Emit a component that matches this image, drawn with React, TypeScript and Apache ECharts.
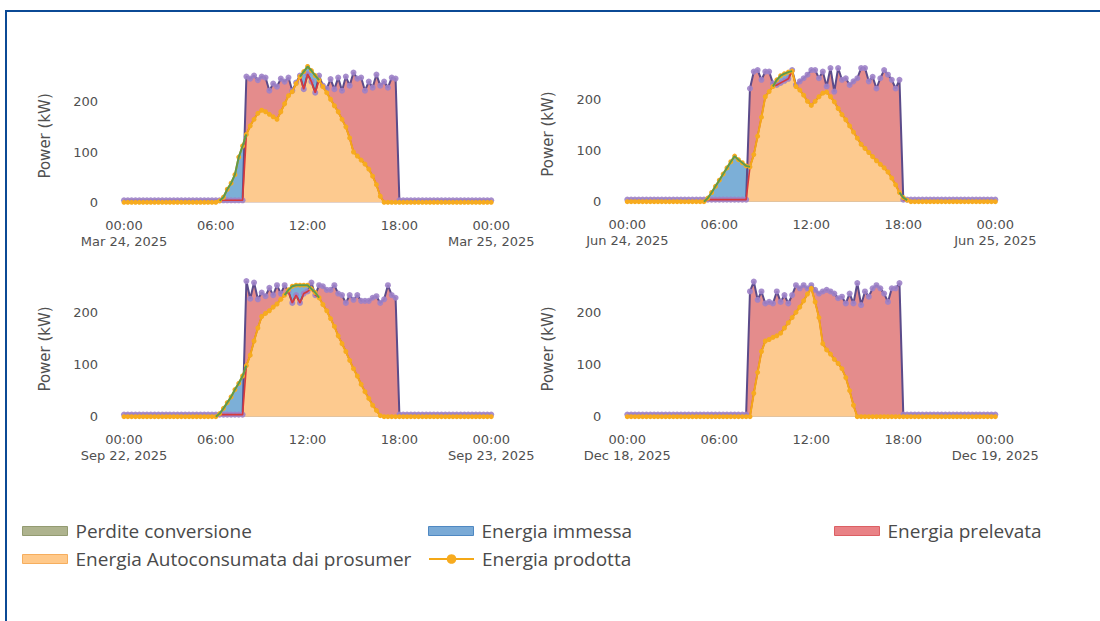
import React, { useEffect, useRef } from 'react';
import * as echarts from 'echarts';

// Axis tick texts
const hourTicks = ['00:00', '06:00', '12:00', '18:00', '00:00'];
const marDates = ['Mar 24, 2025', 'Mar 25, 2025'];
const junDates = ['Jun 24, 2025', 'Jun 25, 2025'];
const sepDates = ['Sep 22, 2025', 'Sep 23, 2025'];
const decDates = ['Dec 18, 2025', 'Dec 19, 2025'];

// 15-minute power readings (kW), 00:00 → 24:00 (97 samples per day)
const marLoad = [
  4, 4, 4, 4, 4, 4, 4, 4,
  4, 4, 4, 4, 4, 4, 4, 4,
  4, 4, 4, 4, 4, 4, 4, 4,
  4, 4, 4, 4, 4, 4, 4, 4,
  250, 246, 252, 243, 250, 248, 222, 236,
  230, 246, 240, 248, 222, 238, 252, 225,
  255, 240, 218, 252, 232, 226, 245, 225,
  248, 222, 250, 232, 258, 246, 248, 222,
  240, 228, 254, 232, 240, 228, 248, 246,
  4, 4, 4, 4, 4, 4, 4, 4,
  4, 4, 4, 4, 4, 4, 4, 4,
  4, 4, 4, 4, 4, 4, 4, 4,
  4,
];
const marPv = [
  0, 0, 0, 0, 0, 0, 0, 0,
  0, 0, 0, 0, 0, 0, 0, 0,
  0, 0, 0, 0, 0, 0, 0, 0,
  0, 3, 10, 26, 38, 55, 90, 112,
  135, 152, 165, 177, 183, 180, 175, 170,
  165, 180, 196, 212, 220, 236, 250, 260,
  270, 262, 252, 243, 230, 218, 205, 192,
  180, 165, 150, 128, 100, 92, 84, 76,
  66, 52, 35, 12, 0, 0, 0, 0,
  0, 0, 0, 0, 0, 0, 0, 0,
  0, 0, 0, 0, 0, 0, 0, 0,
  0, 0, 0, 0, 0, 0, 0, 0,
  0,
];

const junLoad = [
  4, 4, 4, 4, 4, 4, 4, 4,
  4, 4, 4, 4, 4, 4, 4, 4,
  4, 4, 4, 4, 4, 4, 4, 4,
  4, 4, 4, 4, 4, 4, 4, 4,
  221, 254, 257, 238, 254, 254, 231, 228,
  232, 236, 240, 257, 228, 235, 241, 248,
  257, 257, 241, 254, 225, 261, 215, 261,
  238, 241, 228, 235, 241, 261, 261, 235,
  244, 221, 241, 257, 248, 238, 221, 238,
  4, 4, 4, 4, 4, 4, 4, 4,
  4, 4, 4, 4, 4, 4, 4, 4,
  4, 4, 4, 4, 4, 4, 4, 4,
  4,
];
const junPv = [
  0, 0, 0, 0, 0, 0, 0, 0,
  0, 0, 0, 0, 0, 0, 0, 0,
  0, 0, 0, 0, 0, 7, 18, 30,
  42, 54, 66, 78, 89, 82, 76, 70,
  68, 92, 128, 165, 205, 215, 225, 238,
  246, 250, 253, 255, 225, 218, 208, 196,
  188, 196, 205, 212, 214, 205, 195, 182,
  170, 160, 148, 136, 124, 112, 104, 96,
  88, 80, 73, 66, 58, 46, 33, 18,
  8, 3, 0, 0, 0, 0, 0, 0,
  0, 0, 0, 0, 0, 0, 0, 0,
  0, 0, 0, 0, 0, 0, 0, 0,
  0,
];

const sepLoad = [
  4, 4, 4, 4, 4, 4, 4, 4,
  4, 4, 4, 4, 4, 4, 4, 4,
  4, 4, 4, 4, 4, 4, 4, 4,
  4, 4, 4, 4, 4, 4, 4, 4,
  260, 226, 257, 225, 238, 231, 247, 233,
  252, 236, 252, 240, 218, 233, 218, 236,
  240, 257, 233, 252, 250, 243, 243, 252,
  236, 233, 218, 233, 224, 233, 222, 222,
  222, 228, 231, 218, 225, 252, 233, 228,
  4, 4, 4, 4, 4, 4, 4, 4,
  4, 4, 4, 4, 4, 4, 4, 4,
  4, 4, 4, 4, 4, 4, 4, 4,
  4,
];
const sepPv = [
  0, 0, 0, 0, 0, 0, 0, 0,
  0, 0, 0, 0, 0, 0, 0, 0,
  0, 0, 0, 0, 0, 0, 0, 0,
  0, 6, 16, 27, 38, 52, 64, 78,
  98, 118, 145, 170, 192, 198, 203, 210,
  216, 225, 233, 243, 250, 252, 252, 252,
  252, 245, 238, 228, 215, 203, 188, 173,
  155, 140, 125, 108, 92, 78, 62, 48,
  35, 22, 12, 2, 0, 0, 0, 0,
  0, 0, 0, 0, 0, 0, 0, 0,
  0, 0, 0, 0, 0, 0, 0, 0,
  0, 0, 0, 0, 0, 0, 0, 0,
  0,
];

const decLoad = [
  4, 4, 4, 4, 4, 4, 4, 4,
  4, 4, 4, 4, 4, 4, 4, 4,
  4, 4, 4, 4, 4, 4, 4, 4,
  4, 4, 4, 4, 4, 4, 4, 4,
  240, 259, 224, 240, 217, 220, 217, 240,
  220, 233, 217, 233, 252, 246, 252, 246,
  252, 243, 236, 240, 243, 240, 236, 227,
  230, 217, 236, 217, 256, 214, 240, 230,
  246, 252, 246, 236, 220, 246, 246, 256,
  4, 4, 4, 4, 4, 4, 4, 4,
  4, 4, 4, 4, 4, 4, 4, 4,
  4, 4, 4, 4, 4, 4, 4, 4,
  4,
];
const decPv = [
  0, 0, 0, 0, 0, 0, 0, 0,
  0, 0, 0, 0, 0, 0, 0, 0,
  0, 0, 0, 0, 0, 0, 0, 0,
  0, 0, 0, 0, 0, 0, 0, 0,
  0, 45, 85, 125, 145, 148, 152, 155,
  160, 170, 180, 190, 200, 210, 222, 235,
  246, 220, 190, 140, 128, 120, 110, 102,
  92, 75, 50, 22, 0, 0, 0, 0,
  0, 0, 0, 0, 0, 0, 0, 0,
  0, 0, 0, 0, 0, 0, 0, 0,
  0, 0, 0, 0, 0, 0, 0, 0,
  0, 0, 0, 0, 0, 0, 0, 0,
  0,
];

const STEP_HOURS = 0.25;

const COLORS = {
  selfFill: '#fdca8f',
  exportFill: '#7cafd7',
  importFill: '#e48c8c',
  loadLine: '#5b4b8a',
  loadDot: '#9d82c8',
  pvLine: '#f4a817',
  pvDot: '#f7ab1f',
  edgeRed: '#d8393c',
  lossLine: '#5e9a4c',
  text: '#505050',
};

const AXIS_FONT = 'DejaVu Sans';
const LEGEND_FONT = 'Open Sans';

// Plot frames in page pixels
const FRAMES = [
  { left: 124, top: 61.5, width: 367.2, height: 140.8, yMax: 280 },
  { left: 627.3, top: 58.3, width: 368, height: 143.4, yMax: 280 },
  { left: 124, top: 273.2, width: 367.2, height: 143.5, yMax: 275 },
  { left: 627.3, top: 273.2, width: 368, height: 143.5, yMax: 275 },
];

const PANELS = [
  { load: marLoad, pv: marPv, dates: marDates },
  { load: junLoad, pv: junPv, dates: junDates },
  { load: sepLoad, pv: sepPv, dates: sepDates },
  { load: decLoad, pv: decPv, dates: decDates },
];

const toPoints = (arr: (number | null)[]) => arr.map((v, i) => [i * STEP_HOURS, v]);

function panelSeries(p: number, load: number[], pv: number[]) {
  // Self-consumed share, and the upper edges of the drawn / fed-in bands above it
  const self = load.map((l, i) => Math.min(l, pv[i]));
  const exported = load.map((l, i) => Math.max(pv[i] - l, 0));
  const imported = load.map((l, i) => Math.max(l - pv[i], 0));
  const importTop = self.map((s, i) => s + imported[i]);
  const exportTop = self.map((s, i) => s + exported[i]);
  const exporting = exported.map((v) => v > 0);
  const lossEdge = pv.map((v, i) =>
    exporting[i] || exporting[i - 1] || exporting[i + 1] ? v : null
  );
  const base = { type: 'line', xAxisIndex: p, yAxisIndex: p, silent: true, clip: false };
  // Bands are painted back to front: drawn, fed-in, then self-consumed on top
  const area = (name: string, data: number[], color: string, z2: number) => ({
    ...base,
    name,
    symbol: 'none',
    lineStyle: { width: 0, opacity: 0 },
    areaStyle: { color, opacity: 1 },
    itemStyle: { color },
    data: toPoints(data),
    z: 1,
    zlevel: 0,
    z2,
  });
  return [
    area('Energia prelevata', importTop, COLORS.importFill, 1),
    area('Energia immessa', exportTop, COLORS.exportFill, 2),
    area('Energia Autoconsumata dai prosumer', self, COLORS.selfFill, 3),
    {
      ...base,
      name: 'Energia consumata',
      data: toPoints(load),
      symbol: 'circle',
      symbolSize: 6,
      lineStyle: { color: COLORS.loadLine, width: 2 },
      itemStyle: { color: COLORS.loadDot, opacity: 0.9 },
      z: 2,
    },
    {
      ...base,
      name: 'Energia prelevata',
      data: toPoints(self),
      symbol: 'none',
      lineStyle: { color: COLORS.edgeRed, width: 1.6 },
      itemStyle: { color: COLORS.edgeRed },
      z: 3,
    },
    {
      ...base,
      name: 'Energia prodotta',
      data: toPoints(pv),
      symbol: 'circle',
      symbolSize: 5,
      lineStyle: { color: COLORS.pvLine, width: 2 },
      itemStyle: { color: COLORS.pvDot },
      z: 4,
    },
    {
      ...base,
      name: 'Perdite conversione',
      data: toPoints(lossEdge),
      symbol: 'none',
      connectNulls: false,
      lineStyle: { color: COLORS.lossLine, width: 2 },
      itemStyle: { color: COLORS.lossLine },
      z: 5,
    },
  ];
}

const LEGEND_ITEMS = [
  { name: 'Perdite conversione', left: 22, top: 520, fill: '#aeb38e', border: '#939b71' },
  { name: 'Energia immessa', left: 428, top: 520, fill: '#7aaad6', border: '#4f88c2' },
  { name: 'Energia prelevata', left: 834, top: 520, fill: '#e98286', border: '#dc5f63' },
  { name: 'Energia Autoconsumata dai prosumer', left: 22, top: 548, fill: '#ffc98a', border: '#f6ae5e' },
  { name: 'Energia prodotta', left: 428, top: 548, fill: '', border: '' },
];

function buildOption() {
  const grid = FRAMES.map((f) => ({
    left: f.left,
    top: f.top,
    width: f.width,
    height: f.height,
    containLabel: false,
    outerBoundsMode: 'none',
  }));
  const xAxis = PANELS.map((panel, p) => ({
    type: 'value',
    gridIndex: p,
    min: 0,
    max: 24,
    interval: 6,
    axisLine: { show: false, onZero: false },
    axisTick: { show: false },
    splitLine: { show: false },
    axisLabel: {
      margin: 15,
      color: COLORS.text,
      fontFamily: AXIS_FONT,
      fontSize: 13,
      lineHeight: 16,
      formatter: (v: number) => {
        const i = Math.round(v / 6);
        const day = i === 0 ? panel.dates[0] : i === 4 ? panel.dates[1] : '';
        return day ? hourTicks[i] + '\n' + day : hourTicks[i];
      },
    },
  }));
  const yAxis = FRAMES.map((f, p) => ({
    type: 'value',
    gridIndex: p,
    min: 0,
    max: f.yMax,
    interval: 100,
    axisLine: { show: false },
    axisTick: { show: false },
    splitLine: { show: false },
    axisLabel: {
      margin: 26,
      color: COLORS.text,
      fontFamily: AXIS_FONT,
      fontSize: 13,
      formatter: (v: number) => (v % 100 === 0 ? String(v) : ''),
    },
    name: 'Power (kW)',
    nameLocation: 'middle',
    nameGap: 72,
    nameTextStyle: {
      color: COLORS.text,
      fontFamily: AXIS_FONT,
      fontSize: 15,
      padding: [0, 8, 0, 0],
    },
  }));
  const series = PANELS.flatMap((panel, p) => panelSeries(p, panel.load, panel.pv));
  const legend = LEGEND_ITEMS.map((it) => ({
    left: it.left,
    top: it.top,
    padding: 0,
    selectedMode: false,
    itemWidth: 45,
    itemHeight: it.fill ? 9 : 12,
    textStyle: {
      color: '#4a4a4a',
      fontFamily: LEGEND_FONT,
      fontSize: 19,
      lineHeight: 22,
      padding: [0, 0, 0, 3],
    },
    data: [
      it.fill
        ? { name: it.name, icon: 'rect', itemStyle: { color: it.fill, borderColor: it.border, borderWidth: 1 } }
        : { name: it.name },
    ],
  }));
  return {
    animation: false,
    backgroundColor: '#ffffff',
    grid,
    xAxis,
    yAxis,
    legend,
    series,
  };
}

export default function App() {
  const ref = useRef<HTMLDivElement>(null);
  useEffect(() => {
    if (!ref.current) return;
    const chart = echarts.init(ref.current, null, { renderer: 'svg' });
    chart.setOption(buildOption() as any);
    return () => chart.dispose();
  }, []);
  return (
    <div
      style={{
        position: 'fixed',
        left: 0,
        top: 0,
        width: 1100,
        height: 621,
        background: '#ffffff',
        overflow: 'hidden',
      }}
    >
      <div ref={ref} style={{ position: 'absolute', left: 0, top: 0, width: 1100, height: 621 }} />
      <div
        style={{
          position: 'absolute',
          left: 5,
          top: 10,
          width: 1200,
          height: 700,
          borderTop: '2px solid #0b4a95',
          borderLeft: '2px solid #0b4a95',
          pointerEvents: 'none',
        }}
      />
    </div>
  );
}
